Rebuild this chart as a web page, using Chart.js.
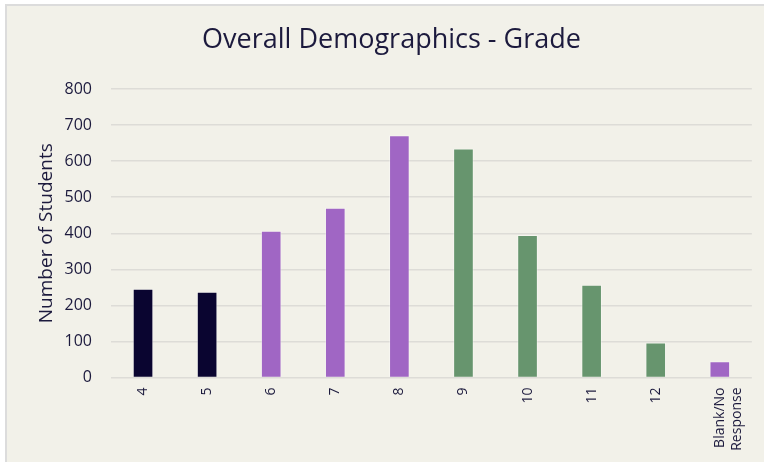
<!DOCTYPE html>
<html>
<head>
<meta charset="utf-8">
<script src="https://cdn.jsdelivr.net/npm/chart.js@4"></script>
<style>
    html, body { margin: 0; padding: 0; background: #ffffff; }
    #frame {
        position: absolute; left: 5px; top: 4px; width: 757px; height: 456px;
        background: #f2f1e9; border-left: 2px solid #dcdcdc; border-top: 2px solid #dcdcdc;
    }
    #chartGrade { display: block; }
</style>
</head>
<body>
<div id="frame"><canvas id="chartGrade" width="757" height="456"></canvas></div>
<script>
const grades = ['4', '5', '6', '7', '8', '9', '10', '11', '12', ['Blank/No', 'Response']];
const students = [245, 237, 406, 470, 671, 634, 394, 256, 96, 44];
const barColors = ['#0a0530', '#0a0530', '#a066c4', '#a066c4', '#a066c4',
    '#67956e', '#67956e', '#67956e', '#67956e', '#a066c4'];
const yTicks = [0, 100, 200, 300, 400, 500, 600, 700, 800];

const textColor = '#1c1a3d';

new Chart(document.querySelector('#chartGrade'), {
    type: 'bar',
    data: {
        labels: grades,
        datasets: [{
            label: 'Number of Students',
            data: students,
            backgroundColor: barColors,
            borderColor: 'rgba(255, 255, 255, 0.35)',
            borderWidth: 1,
            barThickness: 20
        }]
    },
    options: {
        responsive: false,
        animation: false,
        layout: { padding: { top: 0, right: 12, bottom: 0, left: 24 } },
        plugins: {
            legend: { display: false },
            tooltip: { enabled: false },
            title: {
                display: true,
                text: 'Overall Demographics - Grade',
                color: textColor,
                font: { family: 'Open Sans', size: 27, weight: 'normal', lineHeight: 1.2 },
                padding: { top: 18, bottom: 32.6 }
            }
        },
        scales: {
            x: {
                grid: { display: false, drawTicks: false },
                border: { display: false },
                ticks: {
                    color: textColor,
                    font: { family: 'Open Sans', size: 14 },
                    maxRotation: 90,
                    minRotation: 90,
                    padding: 10,
                    autoSkip: false
                },
                afterFit(scale) { scale.height = 84.5; }
            },
            y: {
                min: 0,
                max: 800,
                afterBuildTicks(scale) { scale.ticks = yTicks.map(v => ({ value: v })); },
                grid: { color: '#dddcd7', lineWidth: 1.5, drawTicks: false },
                border: { display: false },
                ticks: {
                    color: textColor,
                    font: { family: 'Open Sans', size: 16 },
                    padding: 19
                },
                title: {
                    display: true,
                    text: 'Number of Students',
                    color: textColor,
                    font: { family: 'Open Sans', size: 19 },
                    padding: { top: 4, bottom: 0 }
                },
                afterFit(scale) { scale.width = 80; }
            }
        }
    }
});
</script>
</body>
</html>
